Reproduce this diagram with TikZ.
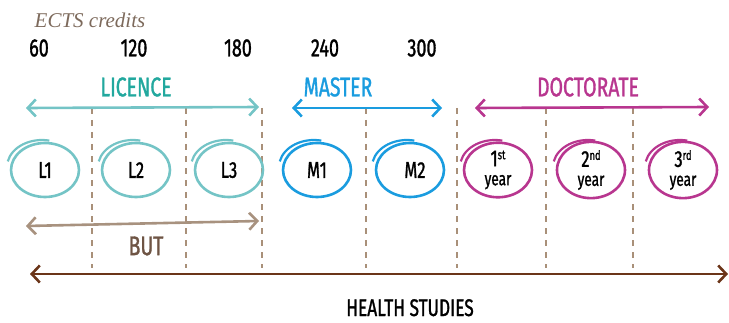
\documentclass[tikz,border=0pt]{standalone}
\usepackage{fontspec}
\setmainfont{Liberation Serif}
\newfontfamily\hand[FakeStretch=0.72,FakeBold=1.2]{Fira Sans}
\usetikzlibrary{arrows.meta,shapes.geometric}
\definecolor{teal1}{HTML}{74C4C6}
\definecolor{tealtxt}{HTML}{22A89E}
\definecolor{mblue}{HTML}{1A9CDF}
\definecolor{mag}{HTML}{B8368F}
\definecolor{dashc}{HTML}{A99079}
\definecolor{butarr}{HTML}{A8927F}
\definecolor{buttxt}{HTML}{6E5444}
\definecolor{health}{HTML}{6B3519}
\definecolor{ectsc}{HTML}{7D6A5C}
\newcommand\hfs[1]{\fontsize{#1}{#1}\selectfont}
\newcommand\tailarc[2]{\draw[#2, line width=2.2pt, shift={(#1.center)}, xshift=-3pt, yshift=3pt] (168:35 and 27) arc[start angle=168, end angle=78, x radius=35, y radius=27];}
\begin{document}
\begin{tikzpicture}[x=1pt,y=1pt,
  dbl/.style={arrows={Straight Barb[length=8pt,width=17pt]-Straight Barb[length=8pt,width=17pt]}, line width=2.6pt},
  circ/.style={ellipse, draw, line width=2.6pt, minimum width=68pt, minimum height=54pt, inner sep=0pt, font=\hand\hfs{23}},
  sep/.style={dashc, line width=1.6pt, dash pattern=on 6pt off 6pt},
  num/.style={font=\hand\hfs{25}},
  cat/.style={font=\hand\hfs{27}},
  yr/.style={circ, align=center, font=\hand\hfs{23}}]
\useasboundingbox (0,0) rectangle (729,322);
% texts
\node[font=\itshape\hfs{21}, text=ectsc] (ects) at (90,302) {ECTS credits};
\node[num] (n60) at (39,274) {60};
\node[num] (n120) at (134,274) {120};
\node[num] (n180) at (238,274) {180};
\node[num] (n240) at (325,274) {240};
\node[num] (n300) at (422,274) {300};
\node[cat, text=tealtxt] (lic) at (136,235) {LICENCE};
\node[cat, text=mblue] (mas) at (338,235) {MASTER};
\node[cat, text=mag] (doc) at (588,235) {DOCTORATE};
% separators
\foreach \x in {92,186,262,366,457,546,633}{
  \draw[sep] (\x,214) -- (\x,54);
}
% top arrows
\coordinate (la) at (26,214); \coordinate (lb) at (259,215);
\coordinate (ma) at (292,214); \coordinate (mb) at (442,214);
\coordinate (da) at (475,214); \coordinate (db) at (709,215);
\draw[dbl, teal1] (la) -- (lb);
\draw[dbl, mblue] (ma) -- (mb);
\draw[dbl, mag] (da) -- (db);
% circles
\node[circ, draw=teal1] (l1) at (45,152) {L1};
\node[circ, draw=teal1] (l2) at (136,152) {L2};
\node[circ, draw=teal1] (l3) at (229,152) {L3};
\node[circ, draw=mblue] (m1) at (317,152) {M1};
\node[circ, draw=mblue] (m2) at (410,152) {\hspace*{10pt}M2};
\node[yr, draw=mag] (y1) at (498,152) {1\raisebox{7pt}{\hfs{13}st}\\[-4pt]{\hfs{19}year}};
\node[yr, draw=mag] (y2) at (591,152) {2\raisebox{7pt}{\hfs{13}nd}\\[-4pt]{\hfs{19}year}};
\node[yr, draw=mag] (y3) at (683,152) {3\raisebox{7pt}{\hfs{13}rd}\\[-4pt]{\hfs{19}year}};
\tailarc{l1}{teal1}
\tailarc{l2}{teal1}
\tailarc{l3}{teal1}
\tailarc{m1}{mblue}
\tailarc{m2}{mblue}
\tailarc{y1}{mag}
\tailarc{y2}{mag}
\tailarc{y3}{mag}
% BUT
\coordinate (ba) at (26,96); \coordinate (bb) at (259,101);
\draw[dbl, butarr] (ba) -- (bb);
\node[cat, text=buttxt] (but) at (146,76) {BUT};
% health
\coordinate (ha) at (30,48); \coordinate (hb) at (728,48);
\draw[dbl, health] (ha) -- (hb);
\node[font=\hand\hfs{24}, anchor=base, inner sep=0pt] (hs) at (410,6) {HEALTH STUDIES};
\end{tikzpicture}
\end{document}
